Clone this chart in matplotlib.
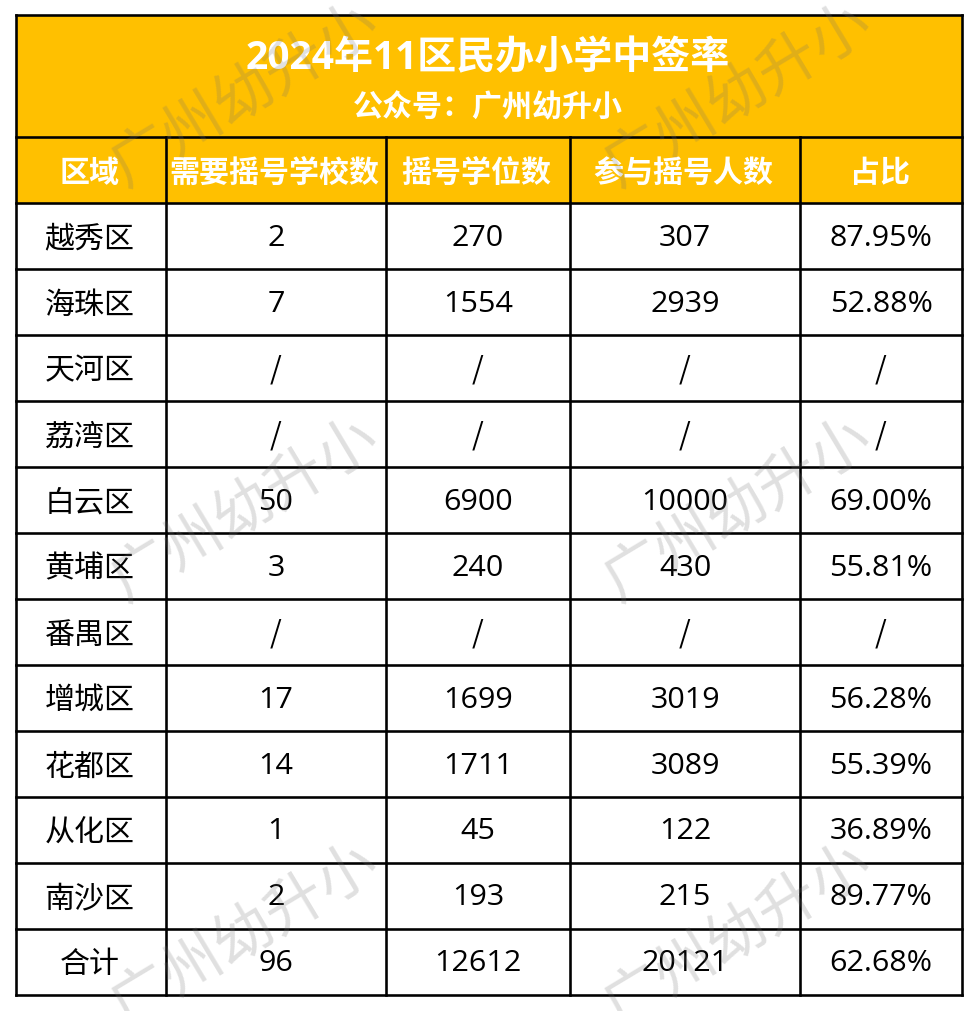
import matplotlib
matplotlib.use("Agg")
import matplotlib.pyplot as plt
from matplotlib.patches import Rectangle

fam = ['Open Sans', 'Noto Sans CJK SC', 'DejaVu Sans']
plt.rcParams['font.family'] = fam

title = "2024年11区民办小学中签率"
subtitle = "公众号：广州幼升小"
headers = ["区域", "需要摇号学校数", "摇号学位数", "参与摇号人数", "占比"]
districts = ["越秀区", "海珠区", "天河区", "荔湾区", "白云区", "黄埔区", "番禺区",
             "增城区", "花都区", "从化区", "南沙区", "合计"]
schools = ["2", "7", "/", "/", "50", "3", "/", "17", "14", "1", "2", "96"]
places = ["270", "1554", "/", "/", "6900", "240", "/", "1699", "1711", "45", "193", "12612"]
applicants = ["307", "2939", "/", "/", "10000", "430", "/", "3019", "3089", "122", "215", "20121"]
ratios = ["87.95%", "52.88%", "/", "/", "69.00%", "55.81%", "/", "56.28%", "55.39%",
          "36.89%", "89.77%", "62.68%"]
watermark = "广州幼升小"

col_x = [16, 166, 386, 570, 800, 962]
title_top, title_bottom, header_bottom = 16, 138, 204
row_h = 66
n = len(districts)
gold = "#FFC000"
px = 72 / 100  # points per pixel

fig = plt.figure(figsize=(9.78, 10.12), dpi=100, facecolor="white")
ax = fig.add_axes([0, 0, 1, 1])
ax.set_xlim(0, 978)
ax.set_ylim(1012, 0)
ax.axis("off")

bottom = header_bottom + n * row_h
ax.add_patch(Rectangle((col_x[0], title_top), col_x[-1] - col_x[0], header_bottom - title_top,
                       facecolor=gold, edgecolor="none", zorder=1))

lw = 2.6 * px
for y in [title_top, title_bottom] + [header_bottom + i * row_h for i in range(n + 1)]:
    ax.plot([col_x[0], col_x[-1]], [y, y], color="black", lw=lw, solid_capstyle="projecting", zorder=3)
for i, x in enumerate(col_x):
    y0 = title_top if i in (0, len(col_x) - 1) else title_bottom
    ax.plot([x, x], [y0, bottom], color="black", lw=lw, solid_capstyle="projecting", zorder=3)

cx = (col_x[0] + col_x[-1]) / 2
ax.text(cx - 1, 59, title, color="white", fontsize=39 * px, fontweight="bold",
        ha="center", va="center", zorder=4)
ax.text(cx - 1, 108, subtitle, color="white", fontsize=30 * px, fontweight="bold",
        ha="center", va="center", zorder=4)

centers = [(col_x[i] + col_x[i + 1]) / 2 for i in range(len(col_x) - 1)]
for c, h in zip(centers, headers):
    ax.text(c - 1.5, 173.5, h, color="white", fontsize=30 * px, fontweight="bold",
            ha="center", va="center", zorder=4)

columns = [districts, schools, places, applicants, ratios]
for j, (c, col) in enumerate(zip(centers, columns)):
    for r, val in enumerate(col):
        y = header_bottom + (r + 0.5) * row_h
        if j == 0:
            ax.text(c - 1.5, y + 3, val, color="black", fontsize=30 * px,
                    ha="center", va="center", zorder=4)
        elif val == "/":
            ax.text(c - 0.5, y + 1, val, color="black", fontsize=30 * px, family=fam[1:],
                    ha="center", va="center", zorder=4)
        else:
            ax.text(c, y + 1, val, color="black", fontsize=30.5 * px,
                    ha="center", va="center", zorder=4)

for wx in (245, 738):
    for wy in (95, 510, 935):
        ax.text(wx, wy, watermark, color="#707070", alpha=0.22, fontsize=60 * px,
                rotation=31, rotation_mode="anchor", ha="center", va="center", zorder=5)

fig.savefig("out.png", dpi=100, facecolor="white")
